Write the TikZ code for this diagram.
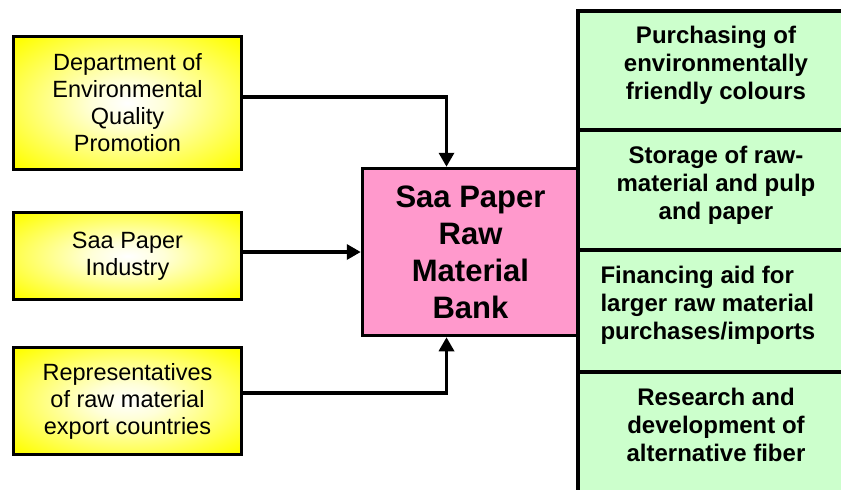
\documentclass[tikz,border=0pt]{standalone}
\usepackage{fontspec}
\setmainfont{Liberation Sans}
\usetikzlibrary{shapes,arrows.meta}
\definecolor{bankpink}{RGB}{255,153,204}
\definecolor{cellgreen}{RGB}{204,255,204}
\definecolor{srcyellow}{RGB}{255,255,0}
\pgfdeclareradialshading{srcglow}{\pgfpoint{0bp}{0bp}}{color(0bp)=(white);
  color(8bp)=(srcyellow!15!white); color(34bp)=(srcyellow); color(50bp)=(srcyellow)}

\begin{document}
\begin{tikzpicture}[x=1pt, y=-1pt,
    srcbox/.style={draw, line width=3.5pt, shading=srcglow,
      minimum width=228pt, align=center, font=\fontsize{23.5}{27}\selectfont},
    bankbox/.style={draw, line width=3.5pt, fill=bankpink, minimum width=216pt,
      minimum height=167pt, align=center, font=\bfseries\fontsize{31}{37}\selectfont},
    cell/.style={draw, line width=3.5pt, fill=cellgreen},
    celltext/.style={align=center, font=\bfseries\fontsize{24}{28}\selectfont},
    feed/.style={line width=3.3pt, -{Triangle[length=14pt,width=15pt]}}]
        \clip (0,0) rectangle (841,490);
        % sources
        \node [srcbox, minimum height=133pt] (dep) at (127.5,103) {Department of\\Environmental\\Quality\\Promotion};
        \node [srcbox, minimum height=87pt] (ind) at (127.5,256) {Saa Paper\\Industry};
        \node [srcbox, minimum height=107pt] (rep) at (127.5,401) {Representatives\\of raw material\\export countries};
        % bank
        \node [bankbox] (bank) at (470.5,252) {Saa Paper\\Raw\\Material\\Bank};
        % services
        \draw [cell] (578,11) rectangle (870,130);
        \draw [cell] (578,130) rectangle (870,250);
        \draw [cell] (578,250) rectangle (870,372);
        \draw [cell] (578,372) rectangle (870,520);
        \node [celltext] (buy) at (716,65) {Purchasing of\\environmentally\\friendly colours};
        \node [celltext] (store) at (716,185) {Storage of raw-\\material and pulp\\and paper};
        \node [celltext, align=left, anchor=west] (fin) at (597,305) {Financing aid for\\larger raw material\\purchases/imports};
        \node [celltext] (rnd) at (716,425) {Research and\\development of\\alternative fiber};
        % arrows
        \draw [feed] ([yshift=6pt]dep.east) -| ([xshift=-24pt]bank.north);
        \draw [feed] (ind.east |- bank.west) -- (bank.west);
        \draw [feed] ([yshift=8pt]rep.east) -| ([xshift=-24pt]bank.south);
\end{tikzpicture}
\end{document}
